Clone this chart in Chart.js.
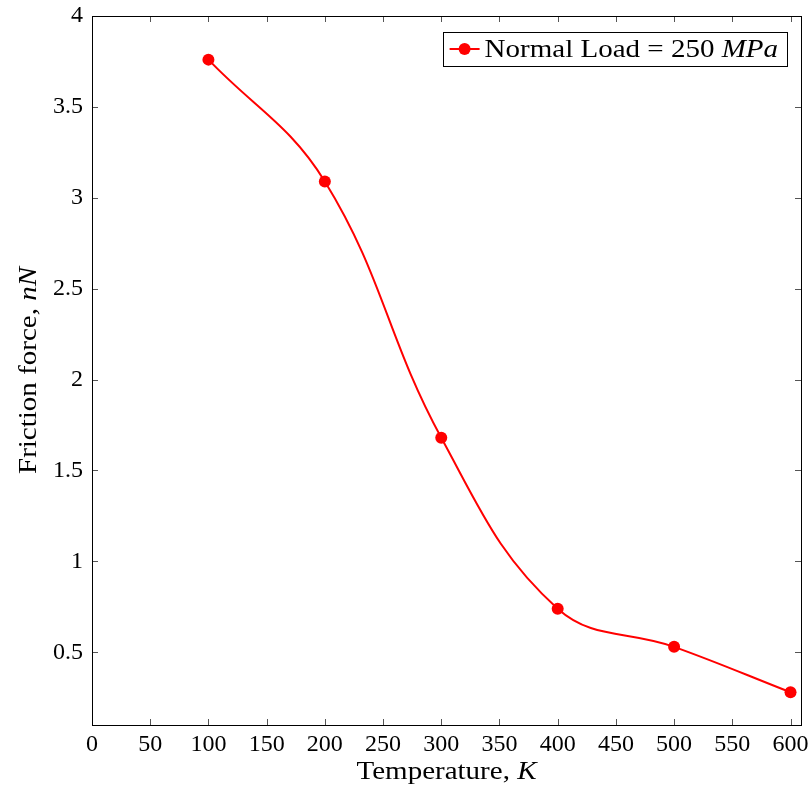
<!DOCTYPE html>
<html><head><meta charset="utf-8">
<script src="https://cdn.jsdelivr.net/npm/chart.js@4/dist/chart.umd.min.js"></script>
<style>html,body{margin:0;padding:0;background:#fff}</style>
</head><body>
<canvas id="c" width="811" height="788"></canvas>
<script>
// ---- data ----
const temperatures = [100, 200, 300, 400, 500, 600];
const frictionForce = [3.76, 3.09, 1.68, 0.74, 0.53, 0.28];
const xTickValues = [0, 50, 100, 150, 200, 250, 300, 350, 400, 450, 500, 550, 600];
const yTickValues = [0.5, 1, 1.5, 2, 2.5, 3, 3.5, 4];
const legendParts = [['Normal Load = 250 ', false], ['MPa', true]];
const xTitleParts = [['Temperature, ', false], ['K', true]];
const yTitleParts = [['Friction force, ', false], ['nN', true]];

const FONT = "'Liberation Serif', 'Times New Roman', serif";
const RED = '#ff0000';
const TEXT_SIZE = 25;
const STRETCH = 1.16;

function partsWidth(ctx, parts, size) {
  let w = 0;
  for (const [t, it] of parts) { ctx.font = (it ? 'italic ' : '') + size + 'px ' + FONT; w += ctx.measureText(t).width; }
  return w * STRETCH;
}
function drawParts(ctx, parts, size, x, y) {
  ctx.save();
  ctx.translate(x, y);
  ctx.scale(STRETCH, 1);
  ctx.textBaseline = 'alphabetic'; ctx.textAlign = 'left';
  let cx = 0;
  for (const [t, it] of parts) {
    ctx.font = (it ? 'italic ' : '') + size + 'px ' + FONT;
    ctx.fillText(t, cx, 0); cx += ctx.measureText(t).width;
  }
  ctx.restore();
}

const framePlugin = {
  id: 'frame',
  afterDraw(chart) {
    const ctx = chart.ctx, a = chart.chartArea, xs = chart.scales.x, ys = chart.scales.y;
    ctx.save();
    // tick marks (inside, mirrored)
    ctx.strokeStyle = '#555'; ctx.lineWidth = 1;
    ctx.beginPath();
    for (const v of xTickValues) {
      const p = Math.round(xs.getPixelForValue(v)) + 0.5;
      ctx.moveTo(p, a.bottom); ctx.lineTo(p, a.bottom - 6);
      ctx.moveTo(p, a.top); ctx.lineTo(p, a.top + 6);
    }
    for (const v of yTickValues) {
      const p = Math.round(ys.getPixelForValue(v)) + 0.5;
      ctx.moveTo(a.left, p); ctx.lineTo(a.left + 6, p);
      ctx.moveTo(a.right, p); ctx.lineTo(a.right - 6, p);
    }
    ctx.stroke();
    // frame
    ctx.strokeStyle = '#000'; ctx.lineWidth = 1;
    ctx.strokeRect(Math.round(a.left) + 0.5, Math.round(a.top) + 0.5, Math.round(a.right - a.left), Math.round(a.bottom - a.top));
    // axis titles
    ctx.fillStyle = '#000';
    const xw = partsWidth(ctx, xTitleParts, TEXT_SIZE);
    drawParts(ctx, xTitleParts, TEXT_SIZE, (a.left + a.right) / 2 - xw / 2, 779);
    const yw = partsWidth(ctx, yTitleParts, TEXT_SIZE);
    ctx.save();
    ctx.translate(36, (a.top + a.bottom) / 2);
    ctx.rotate(-Math.PI / 2);
    drawParts(ctx, yTitleParts, TEXT_SIZE, -yw / 2, 0);
    ctx.restore();
    // legend
    const lw = partsWidth(ctx, legendParts, TEXT_SIZE);
    const boxRight = a.right - 14, boxTop = a.top + 16, boxH = 34;
    const boxW = 42 + lw + 9;
    const boxLeft = boxRight - boxW;
    ctx.fillStyle = '#fff';
    ctx.fillRect(boxLeft, boxTop, boxW, boxH);
    ctx.strokeStyle = '#000'; ctx.lineWidth = 1;
    ctx.strokeRect(Math.round(boxLeft) + 0.5, boxTop + 0.5, Math.round(boxW), boxH);
    const cy = boxTop + boxH / 2;
    ctx.strokeStyle = RED; ctx.lineWidth = 2;
    ctx.beginPath(); ctx.moveTo(boxLeft + 7, cy); ctx.lineTo(boxLeft + 37, cy); ctx.stroke();
    ctx.fillStyle = RED;
    ctx.beginPath(); ctx.arc(boxLeft + 22, cy, 6, 0, Math.PI * 2); ctx.fill();
    ctx.fillStyle = '#000';
    drawParts(ctx, legendParts, TEXT_SIZE, boxLeft + 42, cy + 8);
    ctx.restore();
  }
};

new Chart(document.getElementById('c'), {
  type: 'scatter',
  data: {
    datasets: [{
      label: 'Normal Load = 250 MPa',
      data: temperatures.map((t, i) => ({ x: t, y: frictionForce[i] })),
      showLine: true,
      borderColor: RED,
      backgroundColor: RED,
      borderWidth: 2,
      pointRadius: 6,
      pointHoverRadius: 6,
      pointBorderWidth: 0,
      tension: 0.4
    }]
  },
  options: {
    responsive: false,
    animation: false,
    layout: { padding: { left: 0, right: 10, top: 16, bottom: 0 } },
    plugins: { legend: { display: false }, tooltip: { enabled: false } },
    scales: {
      x: {
        type: 'linear', min: 0, max: 609,
        afterBuildTicks: s => { s.ticks = xTickValues.map(v => ({ value: v })); },
        afterFit: s => { s.height = 63; s.paddingLeft = 0; s.paddingRight = 0; },
        grid: { display: false, drawTicks: false },
        border: { display: false },
        ticks: { font: { family: FONT, size: 24 }, color: '#000', padding: 5, maxRotation: 0, autoSkip: false, callback: v => String(v) }
      },
      y: {
        type: 'linear', min: 0.1, max: 4,
        afterBuildTicks: s => { s.ticks = yTickValues.map(v => ({ value: v })); },
        afterFit: s => { s.width = 92; s.paddingTop = 0; s.paddingBottom = 0; },
        grid: { display: false, drawTicks: false },
        border: { display: false },
        ticks: { font: { family: FONT, size: 24 }, color: '#000', padding: 9, autoSkip: false, callback: v => String(v) }
      }
    }
  },
  plugins: [framePlugin]
});
</script>
</body></html>
